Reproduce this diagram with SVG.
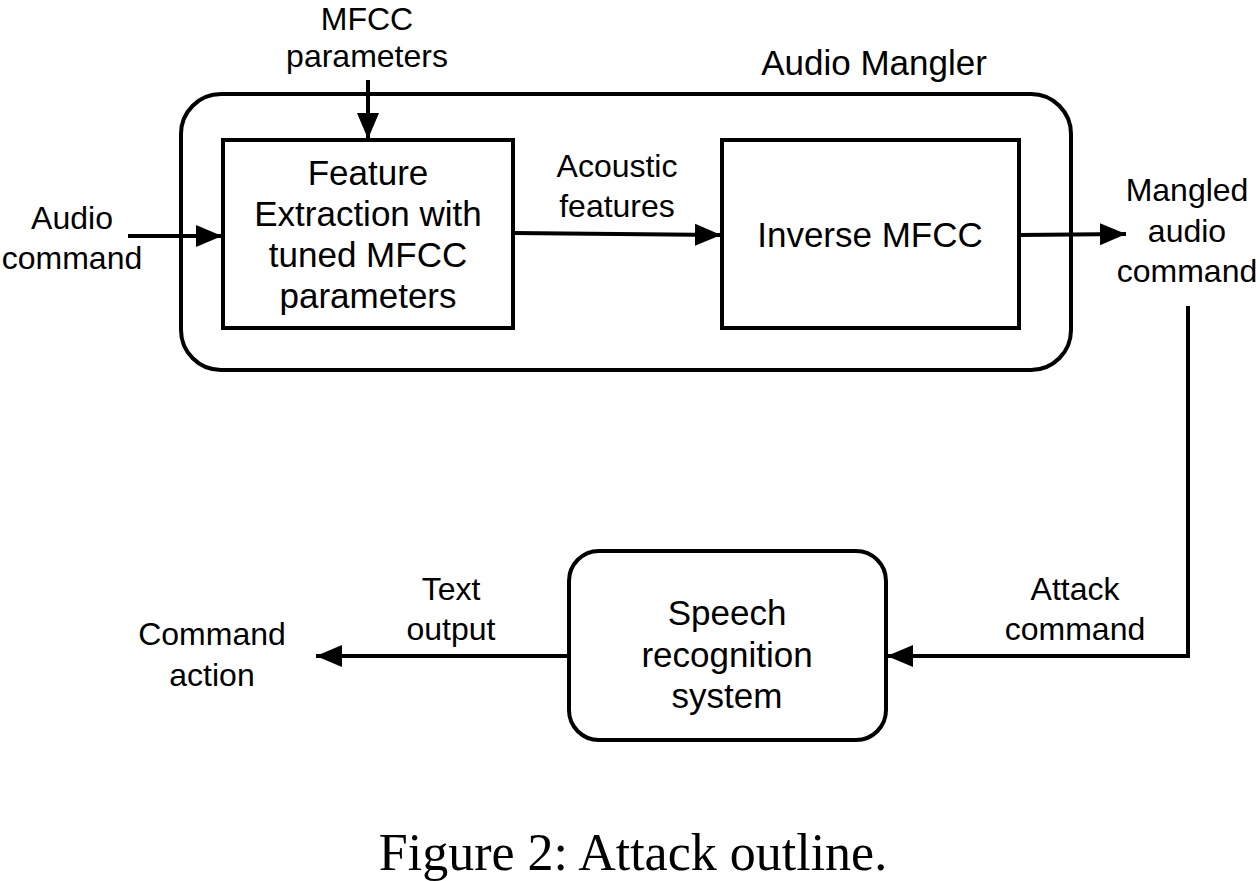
<svg xmlns="http://www.w3.org/2000/svg" width="1260" height="881" viewBox="0 0 1260 881">
<style>
.box{fill:none;stroke:#000;stroke-width:4}
.ln{fill:none;stroke:#000;stroke-width:4}
text{font-family:"Liberation Sans",Arial,sans-serif;font-size:35px;fill:#000;text-anchor:middle}
.lbl{font-size:32px}
.cap{font-family:"Liberation Serif","Times New Roman",serif;font-size:52px}
</style>
<defs>
<marker id="ah" markerUnits="userSpaceOnUse" markerWidth="28" markerHeight="24" refX="26" refY="12" orient="auto">
<path d="M0,1 L26,12 L0,23 Z" fill="#000"/>
</marker>
</defs>
<rect width="1260" height="881" fill="#fff"/>
<g id="audio-mangler">
<rect class="box" x="181" y="94" width="890" height="276" rx="40"/>
<text x="874" y="75">Audio Mangler</text>
</g>
<g id="feature-extraction">
<rect class="box" x="223" y="140" width="290" height="188"/>
<text x="368" y="185">Feature</text>
<text x="368" y="226">Extraction with</text>
<text x="368" y="267">tuned MFCC</text>
<text x="368" y="308">parameters</text>
</g>
<g id="inverse-mfcc">
<rect class="box" x="722" y="140" width="297" height="188"/>
<text x="870" y="247">Inverse MFCC</text>
</g>
<g id="speech-recognition">
<rect class="box" x="569" y="551" width="317" height="189" rx="30"/>
<text x="727" y="625">Speech</text>
<text x="727" y="667">recognition</text>
<text x="727" y="708">system</text>
</g>
<g id="connectors">
<line class="ln" x1="368" y1="80" x2="368" y2="139" marker-end="url(#ah)"/>
<line class="ln" x1="128" y1="236" x2="222" y2="236" marker-end="url(#ah)"/>
<line class="ln" x1="513" y1="233" x2="721" y2="235" marker-end="url(#ah)"/>
<line class="ln" x1="1019" y1="235" x2="1126" y2="234" marker-end="url(#ah)"/>
<polyline class="ln" points="1188,306 1188,656 887,656" marker-end="url(#ah)"/>
<line class="ln" x1="569" y1="656" x2="316" y2="656" marker-end="url(#ah)"/>
</g>
<g id="labels" class="lbl">
<text class="lbl" x="367" y="30">MFCC</text>
<text class="lbl" x="367" y="67">parameters</text>
<text class="lbl" x="72" y="229">Audio</text>
<text class="lbl" x="72" y="269">command</text>
<text class="lbl" x="617" y="177">Acoustic</text>
<text class="lbl" x="617" y="217">features</text>
<text class="lbl" x="1187" y="201">Mangled</text>
<text class="lbl" x="1187" y="242">audio</text>
<text class="lbl" x="1187" y="282">command</text>
<text class="lbl" x="1075" y="600">Attack</text>
<text class="lbl" x="1075" y="640">command</text>
<text class="lbl" x="451" y="600">Text</text>
<text class="lbl" x="451" y="640">output</text>
<text class="lbl" x="212" y="645">Command</text>
<text class="lbl" x="212" y="686">action</text>
</g>
<text class="cap" x="633" y="870">Figure 2: Attack outline.</text>
</svg>
